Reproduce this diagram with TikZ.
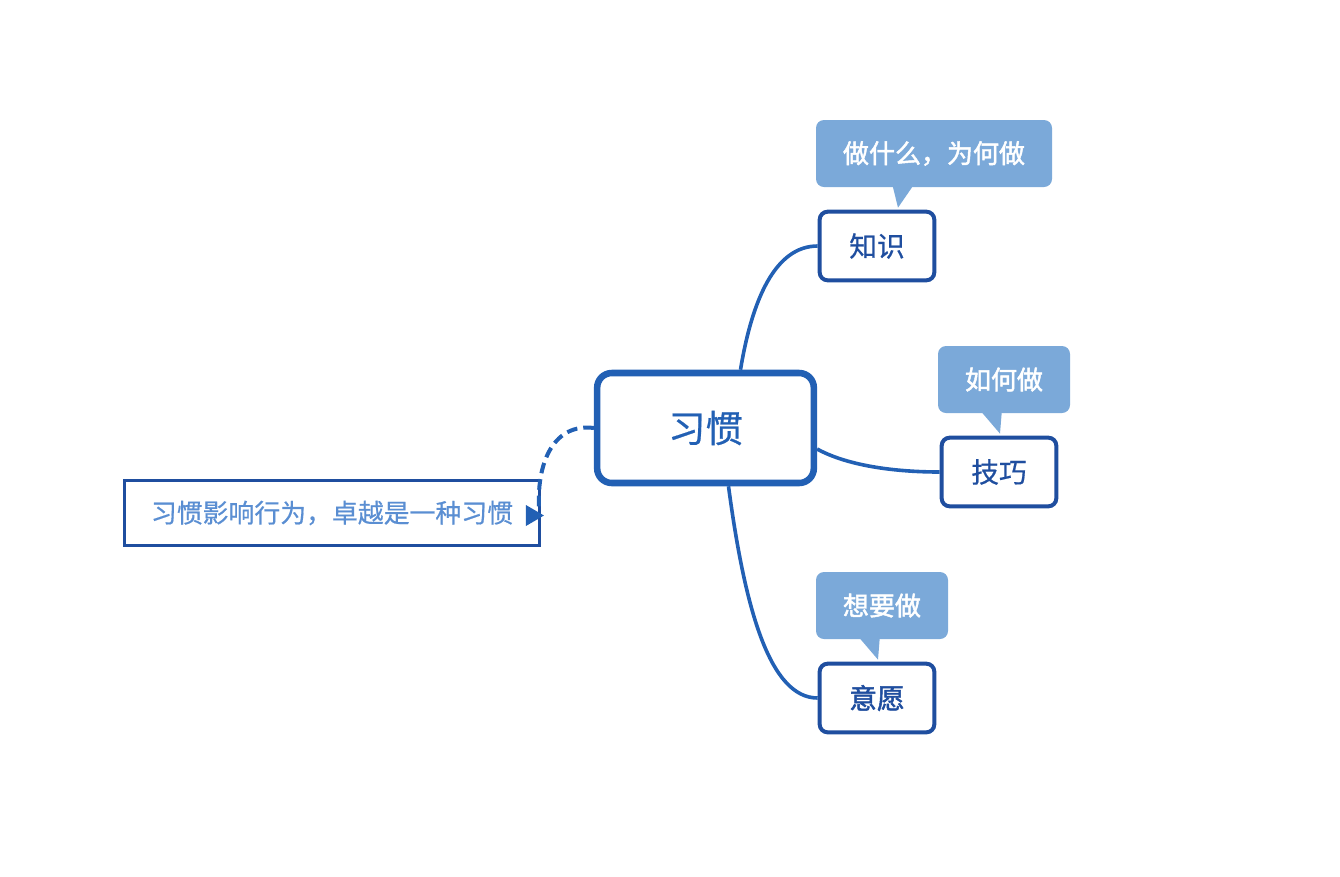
\documentclass[tikz,border=0pt]{standalone}
\usepackage{fontspec}
\setmainfont{Noto Sans CJK SC}
\newfontfamily\cjkmed{Noto Sans CJK SC}[FakeBold=0.6]
\newfontfamily\cjksemi{Noto Sans CJK SC}[FakeBold=1.8]
\usetikzlibrary{calc}
\definecolor{mainblue}{HTML}{2260B4}
\definecolor{darkblue}{HTML}{1F4E9F}
\definecolor{calloutfill}{HTML}{7BA9D9}
\definecolor{sumtext}{HTML}{5A8ED2}
\tikzset{
  centerbox/.style={draw=mainblue, line width=4.9pt, rounded corners=11pt, fill=white,
    minimum width=162.5pt, minimum height=82.5pt, inner sep=0pt, text=mainblue,
    font=\cjkmed\fontsize{28}{30}\selectfont},
  topicbox/.style={draw=darkblue, line width=3pt, rounded corners=6pt, fill=white,
    minimum width=86pt, minimum height=51.5pt, inner sep=0pt, text=darkblue,
    font=\cjkmed\fontsize{20.8}{22}\selectfont},
  calloutbox/.style={fill=calloutfill, rounded corners=6pt, minimum height=50.25pt,
    inner sep=0pt, text=white, font=\cjksemi\fontsize{19.5}{22}\selectfont},
  sumbox/.style={draw=darkblue, line width=1.9pt, minimum width=311.5pt, minimum height=49pt,
    inner sep=0pt, text=sumtext, font=\cjkmed\fontsize{19.4}{22}\selectfont},
  branch/.style={draw=mainblue, line width=2.7pt},
}
\begin{document}
\begin{tikzpicture}[x=0.75pt,y=-0.75pt]
\useasboundingbox (0,0) rectangle (1340,876);
% nodes
\node[centerbox] (c) at (705.5,428) {习惯};
\node[topicbox] (k) at (877,246) {\raisebox{-2pt}{知识}};
\node[topicbox] (t) at (999,472) {\raisebox{-2pt}{技巧}};
\node[topicbox,font=\cjksemi\fontsize{20.8}{22}\selectfont] (w) at (877,698) {\raisebox{-2pt}{意愿}};
\node[calloutbox, minimum width=177pt] (ck) at (934,153.5) {\raisebox{-1.5pt}{做什么，为何做}};
\node[calloutbox, minimum width=99pt] (ct) at (1004,379.5) {\raisebox{-1.5pt}{如何做}};
\node[calloutbox, minimum width=99pt] (cw) at (882,605.5) {\raisebox{-1.5pt}{想要做}};
\node[sumbox] (s) at (332,513) {习惯影响行为，卓越是一种习惯};
% callout tails
\fill[calloutfill] ($(ck.south west)+(77,-1)$) -- ($(ck.south west)+(97,-1)$) -- ($(k.north)+(21,-2)$) -- cycle;
\fill[calloutfill] ($(ct.south west)+(44,-1)$) -- ($(ct.south west)+(64,-1)$) -- ($(t.north)+(1,-2)$) -- cycle;
\fill[calloutfill] ($(cw.south west)+(44,-1)$) -- ($(cw.south west)+(64,-1)$) -- ($(w.north)+(1,-2)$) -- cycle;
% branches
\draw[branch] ($(c.north)+(35,0)$) .. controls (752,300) and (775,246) .. (k.west);
\draw[branch] ($(c.east)+(0,21)$) .. controls (850,467) and (900,472) .. (t.west);
\draw[branch] ($(c.south)+(23,0)$) .. controls (745,610) and (770,698) .. (w.west);
% dashed relation
\coordinate (dend) at ($(s.east)+(-2,-6)$);
\draw[branch, line width=3pt, dash pattern=on 8pt off 4.5pt] (c.west) .. controls (555,423) and (537,460) .. (dend);
\fill[mainblue] ($(s.east)+(-15,-8)$) -- ($(s.east)+(3,2.5)$) -- ($(s.east)+(-15,13)$) -- cycle;
\end{tikzpicture}
\end{document}
